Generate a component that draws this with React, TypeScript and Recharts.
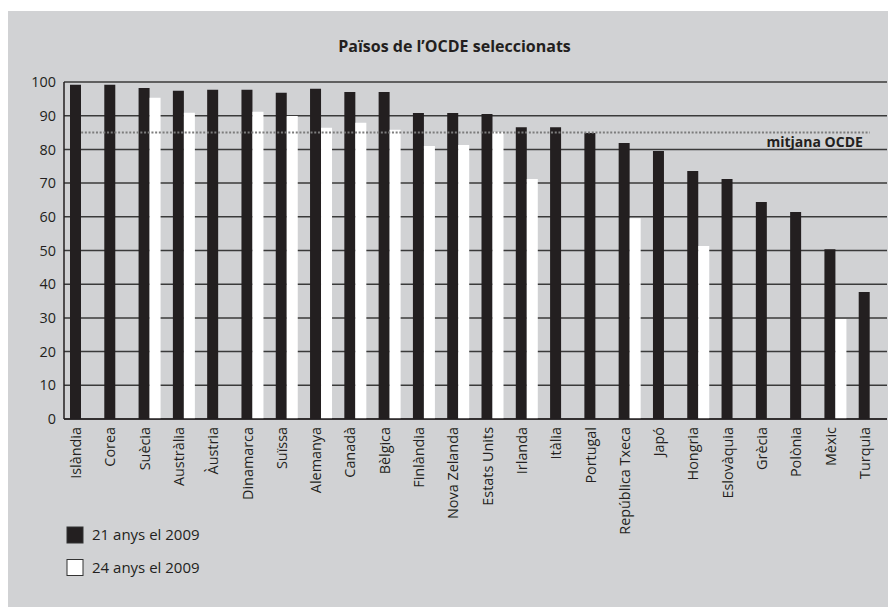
import React from 'react';
import { BarChart, Bar, XAxis, YAxis, CartesianGrid, ReferenceLine } from 'recharts';

const countries = [
  'Islàndia', 'Corea', 'Suècia', 'Austràlia', 'Àustria', 'Dinamarca', 'Suïssa', 'Alemanya',
  'Canadà', 'Bèlgica', 'Finlàndia', 'Nova Zelanda', 'Estats Units', 'Irlanda', 'Itàlia',
  'Portugal', 'República Txeca', 'Japó', 'Hongria', 'Eslovàquia', 'Grècia', 'Polònia', 'Mèxic', 'Turquia',
];
const age21 = [99.2, 99.2, 98.2, 97.4, 97.7, 97.7, 96.8, 98.0, 97.0, 97.0, 90.8, 90.8, 90.5, 86.6, 86.6, 84.9, 81.9, 79.5, 73.6, 71.2, 64.4, 61.4, 50.4, 37.7];
const age24 = [null, null, 95.3, 90.9, null, 91.2, 89.9, 86.4, 87.9, 85.8, 81.0, 81.3, 85.2, 71.2, null, null, 59.6, null, 51.3, null, null, null, 29.7, null];
const yTicks = [0, 10, 20, 30, 40, 50, 60, 70, 80, 90, 100];
const oecdAverage = 85;
const title = 'Països de l’OCDE seleccionats';
const averageLabel = 'mitjana OCDE';
const legendLabels = ['21 anys el 2009', '24 anys el 2009'];

const data = countries.map((c, i) => ({ country: c, a21: age21[i], a24: age24[i] }));

const FONT = '"Open Sans", "Noto Sans", sans-serif';
const INK = '#231f20';

const XTick = (props: any) => {
  const { x, y, payload } = props;
  return (
    <g transform={`translate(${x},${y})`}>
      <text transform="rotate(-90)" x={0} y={0} textAnchor="end" fontSize={14.4} fontFamily={FONT} fill={INK}>
        {payload.value}
      </text>
    </g>
  );
};

const AvgLabel = (props: any) => {
  const vb = props.viewBox || {};
  const x = (vb.x ?? 0) + (vb.width ?? 0) - 7;
  const y = (vb.y ?? 0) + 14;
  return (
    <text x={x} y={y} textAnchor="end" fontSize={14} fontWeight="bold" fontFamily={FONT} fill={INK}>
      {averageLabel}
    </text>
  );
};

export default function App() {
  return (
    <>
      <style>{`body{margin:0}`}</style>
      <div style={{ position: 'relative', width: 889, height: 607, background: '#fff', overflow: 'hidden', fontFamily: FONT }}>
        <div style={{ position: 'absolute', left: 8, top: 11, width: 880, height: 596, background: '#d1d2d4' }}>
          <BarChart
            width={880}
            height={596}
            data={data}
            margin={{ top: 71, right: 1, bottom: 68, left: 0 }}
            barGap={0}
            barSize={11}
          >
            <CartesianGrid vertical={false} stroke="#3a3a3a" strokeWidth={1.5} />
            <XAxis
              dataKey="country"
              interval={0}
              height={120}
              tick={<XTick />}
              tickLine={false}
              axisLine={{ stroke: INK, strokeWidth: 1.5 }}
            />
            <YAxis
              domain={[0, 100]}
              ticks={yTicks}
              width={56}
              tickLine={false}
              axisLine={{ stroke: INK, strokeWidth: 1.5 }}
              tick={{ fontSize: 14.4, fill: INK, fontFamily: FONT }}
            />
            <Bar dataKey="a21" fill={INK} isAnimationActive={false} />
            <Bar dataKey="a24" fill="#ffffff" isAnimationActive={false} />
            <ReferenceLine
              segment={[{ x: countries[0], y: oecdAverage }, { x: countries[countries.length - 1], y: oecdAverage }]}
              stroke="#7c7c7c"
              strokeWidth={2}
              strokeDasharray="2 1.7"
              label={<AvgLabel />}
            />
          </BarChart>
          <svg width={880} height={596} style={{ position: 'absolute', left: 0, top: 0, pointerEvents: 'none' }}>
            <text x={446.5} y={41} textAnchor="middle" fontSize={16} fontWeight="bold" fontFamily={FONT} fill={INK}>
              {title}
            </text>
            <rect x={59} y={516} width={16} height={16} fill={INK} stroke="#333" strokeWidth={1} />
            <text x={84} y={529} fontSize={15} fontFamily={FONT} fill={INK}>{legendLabels[0]}</text>
            <rect x={59} y={548.5} width={16} height={16} fill="#fff" stroke="#333" strokeWidth={1} />
            <text x={84} y={562} fontSize={15} fontFamily={FONT} fill={INK}>{legendLabels[1]}</text>
          </svg>
        </div>
      </div>
    </>
  );
}
